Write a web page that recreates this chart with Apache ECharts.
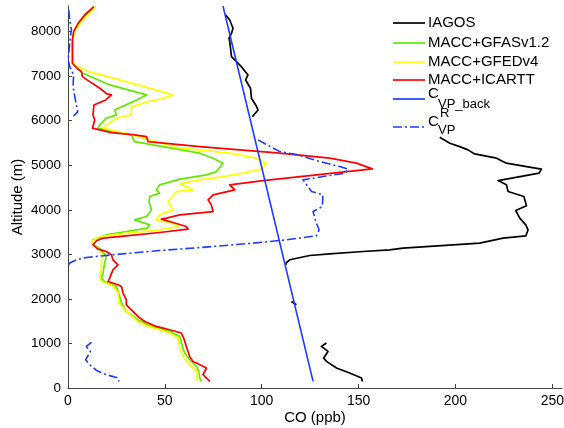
<!DOCTYPE html>
<html>
<head>
<meta charset="utf-8">
<script src="https://cdn.jsdelivr.net/npm/echarts@6/dist/echarts.min.js"></script>
<style>
  html, body { margin: 0; padding: 0; background: #fff; }
  #chart { width: 564px; height: 428px; }
</style>
</head>
<body>
<div id="chart"></div>
<script>
// CO vertical profiles: [CO (ppb), altitude (m)]
const iagosUpper = [[81.4,8373],[83.5,8261],[85.2,8075],[84.4,7963],[83.1,7851],[83.5,7774],[84.4,7438],[86.9,7326],[89.5,7213],[92.9,7027],[91.7,6915],[94.2,6729],[94.7,6505],[96.9,6354],[98.1,6242],[95.2,6092]];
const iagosMiddle = [[191.9,5630],[197.1,5495],[202.2,5419],[206.5,5345],[209.9,5255],[221.2,5159],[226.3,5047],[236.7,4970],[244.4,4912],[243.2,4822],[222.0,4656],[226.3,4560],[227.2,4410],[235.3,4298],[236.7,4089],[231.1,3984],[233.2,3813],[236.3,3663],[237.5,3551],[236.3,3416],[224.6,3365],[212.5,3252],[198.8,3214],[172.9,3140],[166.0,3102],[152.3,3064],[135.1,3012],[124.8,2974],[114.5,2878],[112.8,2817],[112.4,2766]];
const iagosShort = [[115.3,1942],[117.9,1868]];
const iagosLower = [[133.4,1009],[130.8,933],[134.2,821],[132.0,673],[133.4,597],[138.6,449],[145.4,336],[151.5,224],[152.0,148]];

const gfas = [[13.8,8559],[9.1,8373],[5.5,8187],[3.2,7999],[2.3,7812],[2.3,7290],[2.7,7252],[7.7,7065],[21.5,6803],[40.5,6579],[33.6,6428],[24.1,6242],[25.0,6130],[19.8,6056],[16.4,5906],[15.5,5832],[23.2,5756],[32.7,5682],[34.4,5531],[68.0,5271],[74.9,5159],[80.0,5047],[76.6,4858],[71.5,4784],[57.7,4688],[47.3,4560],[45.6,4448],[47.3,4374],[42.2,4298],[41.8,4185],[43.1,3999],[40.5,3849],[34.4,3775],[42.2,3663],[40.8,3589],[30.1,3513],[19.8,3438],[12.9,3326],[12.1,3252],[14.7,3176],[17.2,3102],[19.8,2952],[18.9,2804],[18.1,2579],[17.2,2467],[18.9,2391],[25.0,2279],[26.7,2055],[27.6,1907],[30.1,1718],[36.1,1532],[41.3,1420],[52.5,1270],[57.7,1157],[59.1,933],[60.2,785],[62.8,635],[66.3,485],[67.5,366],[68.0,224],[68.9,148]];

const gfed = [[14.3,8559],[10.2,8373],[6.3,8187],[3.5,7999],[2.4,7812],[2.3,7364],[3.5,7252],[11.2,7095],[30.1,6877],[54.2,6579],[47.3,6482],[41.3,6428],[32.7,6316],[32.7,6130],[25.0,6056],[19.8,5906],[18.1,5832],[25.8,5756],[33.6,5682],[38.7,5608],[57.7,5383],[83.5,5271],[97.3,5159],[102.4,5047],[99.8,4912],[90.3,4822],[80.0,4746],[68.0,4672],[57.7,4582],[64.5,4448],[56.0,4410],[51.6,4185],[54.2,3999],[47.3,3887],[45.6,3775],[54.2,3701],[56.8,3625],[47.3,3551],[30.1,3477],[16.4,3400],[12.1,3288],[12.9,3214],[16.4,3102],[18.1,2952],[17.2,2878],[17.2,2692],[16.4,2467],[17.2,2391],[23.2,2295],[25.8,2131],[26.3,1907],[29.3,1756],[36.1,1494],[41.3,1382],[52.5,1234],[56.8,1122],[57.7,897],[59.4,709],[62.8,523],[67.1,336],[66.4,231],[67.0,148]];

const icartt = [[13.3,8559],[8.6,8373],[5.2,8187],[2.9,7999],[2.3,7812],[2.3,7290],[2.9,7252],[4.6,7178],[6.9,7101],[7.4,6989],[11.2,6877],[16.4,6729],[20.1,6601],[22.4,6579],[19.5,6467],[13.4,6354],[12.9,6130],[13.8,6018],[12.6,5832],[22.4,5733],[34.4,5682],[40.5,5643],[41.3,5531],[68.0,5419],[109.3,5271],[135.1,5159],[148.9,5047],[157.1,4919],[100.7,4656],[83.5,4560],[86.1,4448],[74.9,4336],[72.3,4224],[74.0,4111],[74.9,3961],[57.7,3887],[50.8,3813],[48.2,3791],[54.2,3714],[61.1,3625],[62.0,3566],[47.3,3490],[30.1,3416],[18.1,3365],[14.7,3304],[12.9,3214],[15.5,3118],[19.8,3064],[22.4,2990],[23.2,2878],[25.8,2766],[23.2,2653],[21.5,2467],[20.7,2391],[25.8,2317],[27.6,2279],[28.4,2131],[30.1,1981],[30.1,1868],[32.7,1756],[36.1,1606],[39.6,1494],[45.6,1382],[52.5,1308],[58.5,1234],[59.7,1122],[61.1,933],[62.8,709],[64.5,597],[66.3,561],[71.5,449],[69.7,298],[71.5,224],[73.2,148]];

const vpBack = [[126.5,150],[80.0,8575]];

const vpRUpper = [[0.4,8485],[0.9,8261],[1.8,8037],[1.2,7886],[0.1,7364],[0.9,7213],[2.9,7027],[2.6,6765],[3.5,6541],[4.5,6316],[5.0,6197],[2.9,6108]];
const vpRMiddle = [[98.1,5569],[109.3,5307],[118.7,5233],[129.9,5083],[140.3,4970],[144.6,4912],[142.8,4822],[131.6,4746],[121.3,4672],[125.7,4410],[131.6,4336],[131.3,4073],[126.5,3961],[127.9,3737],[129.6,3551],[128.2,3416],[112.8,3326],[95.5,3252],[74.9,3176],[57.7,3118],[47.3,3086],[23.2,2990],[9.5,2929],[4.3,2878],[0.9,2804],[0.1,2743]];
const vpRLower = [[12.1,1023],[9.5,933],[11.6,821],[9.1,635],[11.2,523],[14.7,395],[19.8,298],[25.8,224],[26.3,148]];

const xTicks = [0, 50, 100, 150, 200, 250];
const yTicks = [0, 1000, 2000, 3000, 4000, 5000, 6000, 7000, 8000];

const COLORS = {
  iagos: '#000000',
  gfas: '#5fea00',
  gfed: '#ffff00',
  icartt: '#ff0000',
  vp: '#1e3cff'
};
const FONT = '"Liberation Sans", Arial, Helvetica, sans-serif';
const DASH_DOT = [9, 3, 2, 3];

function lineSeries(name, data, color, width, dash) {
  return {
    name: name,
    type: 'line',
    data: data,
    showSymbol: false,
    symbol: 'none',
    silent: true,
    animation: false,
    clip: true,
    lineStyle: { color: color, width: width, type: dash || 'solid', cap: 'butt', join: 'round' }
  };
}

const series = [
  lineSeries('IAGOS', iagosUpper, COLORS.iagos, 1.7),
  lineSeries('IAGOS', iagosMiddle, COLORS.iagos, 1.7),
  lineSeries('IAGOS', iagosShort, COLORS.iagos, 1.7),
  lineSeries('IAGOS', iagosLower, COLORS.iagos, 1.7),
  lineSeries('MACC+GFASv1.2', gfas, COLORS.gfas, 1.7),
  lineSeries('MACC+GFEDv4', gfed, COLORS.gfed, 1.7),
  lineSeries('MACC+ICARTT', icartt, COLORS.icartt, 1.7),
  lineSeries('C_VP_back', vpBack, COLORS.vp, 1.6),
  lineSeries('C_VP^R', vpRUpper, COLORS.vp, 1.6, DASH_DOT),
  lineSeries('C_VP^R', vpRMiddle, COLORS.vp, 1.6, DASH_DOT),
  lineSeries('C_VP^R', vpRLower, COLORS.vp, 1.6, DASH_DOT)
];

// Legend drawn as graphic elements so the sub/superscripts can be stacked
const legendX = 393, legendLen = 32, textX = 428;
const legendRows = [
  { color: COLORS.iagos, y: 23, label: 'IAGOS' },
  { color: COLORS.gfas, y: 43, label: 'MACC+GFASv1.2' },
  { color: COLORS.gfed, y: 62, label: 'MACC+GFEDv4' },
  { color: COLORS.icartt, y: 80, label: 'MACC+ICARTT' },
  { color: COLORS.vp, y: 99, label: null },
  { color: COLORS.vp, y: 127, label: null, dash: DASH_DOT }
];

function txt(text, x, y, size) {
  return {
    type: 'text', x: x, y: y, silent: true,
    style: { text: text, font: size + 'px ' + FONT, fill: '#000', align: 'left', verticalAlign: 'middle', textAlign: 'left', textVerticalAlign: 'middle' }
  };
}

const graphic = [];
legendRows.forEach(function (r) {
  graphic.push({
    type: 'line', silent: true,
    shape: { x1: legendX, y1: r.y, x2: legendX + legendLen, y2: r.y },
    style: { stroke: r.color, lineWidth: 1.7, lineDash: r.dash || null }
  });
  if (r.label) graphic.push(txt(r.label, textX, r.y, 15));
});
graphic.push(txt('C', textX, 94, 15));
graphic.push(txt('VP_back', textX + 10, 104, 13));
graphic.push(txt('C', textX, 122, 15));
graphic.push(txt('R', textX + 12, 113, 13));
graphic.push(txt('VP', textX + 10, 130, 13));

const option = {
  backgroundColor: '#ffffff',
  animation: false,
  grid: { left: 68, right: 2, top: 6, bottom: 40, containLabel: false, outerBoundsMode: 'none' },
  xAxis: {
    type: 'value',
    min: 0, max: 255, interval: 50,
    name: 'CO (ppb)',
    nameLocation: 'middle',
    nameGap: 22,
    nameMoveOverlap: false,
    nameTextStyle: { fontFamily: FONT, fontSize: 15, color: '#000' },
    axisLine: { show: true, lineStyle: { color: '#444', width: 1 } },
    axisTick: { show: true, inside: true, length: 4, lineStyle: { color: '#444' } },
    axisLabel: {
      fontFamily: FONT, fontSize: 14, color: '#000', margin: 6,
      showMaxLabel: false,
      formatter: function (v) { return xTicks.indexOf(v) >= 0 ? String(v) : ''; }
    },
    splitLine: { show: false }
  },
  yAxis: {
    type: 'value',
    min: 0, max: 8575, interval: 1000,
    name: 'Altitude (m)',
    nameLocation: 'middle',
    nameGap: 43,
    nameMoveOverlap: false,
    nameRotate: 90,
    nameTextStyle: { fontFamily: FONT, fontSize: 15, color: '#000' },
    axisLine: { show: true, lineStyle: { color: '#444', width: 1 } },
    axisTick: { show: true, inside: true, length: 4, lineStyle: { color: '#444' } },
    axisLabel: {
      fontFamily: FONT, fontSize: 13.5, color: '#000', margin: 7,
      showMaxLabel: false,
      formatter: function (v) { return yTicks.indexOf(v) >= 0 ? String(v) : ''; }
    },
    splitLine: { show: false }
  },
  series: series,
  graphic: graphic
};

const chart = echarts.init(document.getElementById('chart'), null, { renderer: 'canvas' });
chart.setOption(option);
</script>
</body>
</html>
